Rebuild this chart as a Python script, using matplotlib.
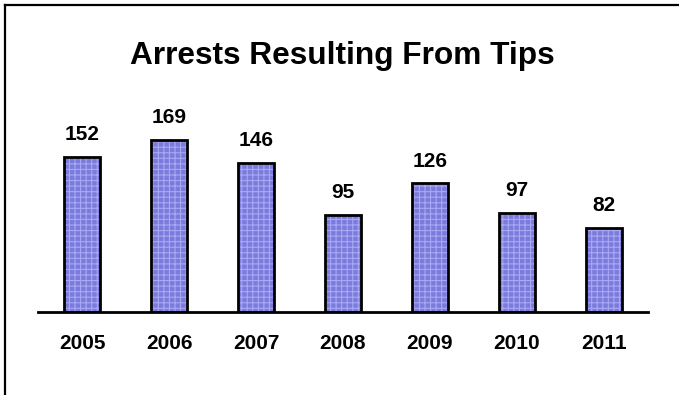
import matplotlib.pyplot as plt
from matplotlib.lines import Line2D

years = ['2005', '2006', '2007', '2008', '2009', '2010', '2011']
arrests = [152, 169, 146, 95, 126, 97, 82]

plt.rcParams['font.family'] = ['Liberation Sans', 'DejaVu Sans']
plt.rcParams['hatch.linewidth'] = 0.8

fig = plt.figure(figsize=(6.79, 3.95), dpi=100)
ax = fig.add_axes([38 / 679, 83 / 395, 610 / 679, 200 / 395])

x = range(len(years))
# patterned fill, then black outline on top
ax.bar(x, arrests, width=0.414, color='#7b7bdb', edgecolor='#a8a8f4',
       hatch='+++', linewidth=0, zorder=2)
ax.bar(x, arrests, width=0.414, fill=False, edgecolor='black',
       linewidth=2, zorder=3)

for i, v in enumerate(arrests):
    ax.text(i, v + 16.5, str(v), ha='center', va='baseline',
            fontsize=15, fontweight='bold')

ax.set_xlim(-0.506, 6.506)
ax.set_ylim(0, 196)
ax.set_yticks([])
ax.set_xticks(list(x))
ax.set_xticklabels(years, fontsize=15, fontweight='bold')
ax.tick_params(axis='x', length=0, pad=15.5)
for s in ['top', 'right', 'left']:
    ax.spines[s].set_visible(False)
ax.spines['bottom'].set_linewidth(2)
ax.spines['bottom'].set_zorder(4)

fig.text(0.504, 1 - 56 / 395, 'Arrests Resulting From Tips', ha='center',
         va='center', fontsize=22.8, fontweight='bold')

# outer frame (left and top edges)
fig.add_artist(Line2D([5 / 679, 5 / 679], [0, 1 - 5 / 395], color='black', lw=1.6))
fig.add_artist(Line2D([5 / 679, 1], [1 - 5 / 395, 1 - 5 / 395], color='black', lw=1.6))

fig.savefig('out.png', dpi=100)
